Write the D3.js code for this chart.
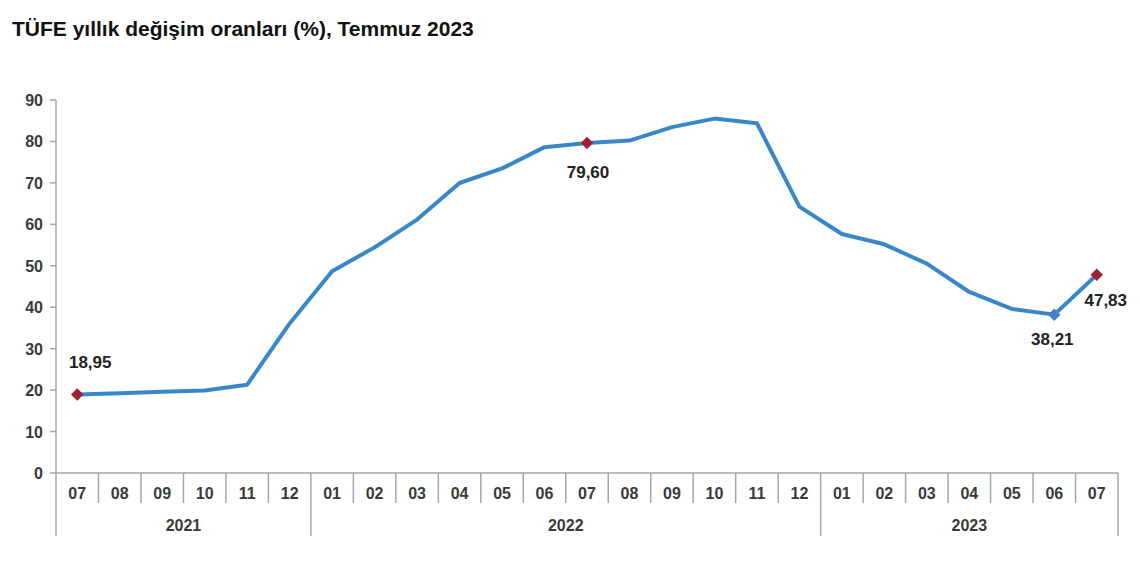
<!DOCTYPE html>
<html><head><meta charset="utf-8">
<script src="https://cdn.jsdelivr.net/npm/d3@7"></script>
<style>body{margin:0;background:#fff}svg{display:block}text{font-family:"Liberation Sans",Arial,sans-serif}</style>
</head><body>
<svg id="c" width="1140" height="570"></svg>
<script>
const title = "TÜFE yıllık değişim oranları (%), Temmuz 2023";
const months = ["07","08","09","10","11","12","01","02","03","04","05","06","07","08","09","10","11","12","01","02","03","04","05","06","07"];
const years = ["2021","2022","2023"];
const yearSpans = [[0,5],[6,17],[18,24]];
const values = [18.95,19.25,19.58,19.89,21.31,36.08,48.69,54.44,61.14,69.97,73.50,78.62,79.60,80.21,83.45,85.51,84.39,64.27,57.68,55.18,50.51,43.68,39.59,38.21,47.83];
const yTicks = [0,10,20,30,40,50,60,70,80,90];
const labelled = [{i:0,text:"18,95",dx:13,dy:-26,c:"#9b2335"},{i:12,text:"79,60",dx:1,dy:35,c:"#9b2335"},{i:23,text:"38,21",dx:-2,dy:30,c:"#4a7fc5"},{i:24,text:"47,83",dx:9,dy:31,c:"#9b2335"}];

const svg = d3.select("#c");
const x = d3.scaleBand().domain(d3.range(months.length)).range([56,1118]).paddingInner(0).paddingOuter(0);
const y = d3.scaleLinear().domain([0,90]).range([473,100]);
const axisCol = "#a6a6a6";
const tickTextCol = "#3a3a3a";

svg.append("text").attr("x",12).attr("y",36).attr("font-size",21).attr("font-weight","bold").attr("fill","#111").text(title);

// y axis
svg.append("line").attr("x1",56).attr("x2",56).attr("y1",y(90)).attr("y2",y(0)).attr("stroke",axisCol).attr("stroke-width",1.5);
yTicks.forEach(t=>{
  svg.append("line").attr("x1",50).attr("x2",56).attr("y1",y(t)).attr("y2",y(t)).attr("stroke",axisCol).attr("stroke-width",1.5);
  svg.append("text").attr("x",43).attr("y",y(t)+6).attr("text-anchor","end").attr("font-size",16).attr("font-weight","bold").attr("fill",tickTextCol).text(t);
});
// x axis
svg.append("line").attr("x1",56).attr("x2",1118).attr("y1",y(0)).attr("y2",y(0)).attr("stroke",axisCol).attr("stroke-width",1.5);
const yearStarts = new Set(yearSpans.map(s=>s[0]));
d3.range(months.length+1).forEach(i=>{
  const xp = i<months.length ? x(i) : x(months.length-1)+x.bandwidth();
  const long = yearStarts.has(i) || i===months.length;
  svg.append("line").attr("x1",xp).attr("x2",xp).attr("y1",y(0)).attr("y2",long?536:503).attr("stroke",axisCol).attr("stroke-width",1.5);
});
months.forEach((m,i)=>{
  svg.append("text").attr("x",x(i)+x.bandwidth()/2).attr("y",499).attr("text-anchor","middle").attr("font-size",16).attr("font-weight","bold").attr("fill",tickTextCol).text(m);
});
years.forEach((yr,k)=>{
  const [a,b]=yearSpans[k];
  const cx=(x(a)+x(b)+x.bandwidth())/2;
  svg.append("text").attr("x",cx).attr("y",531).attr("text-anchor","middle").attr("font-size",16).attr("font-weight","bold").attr("fill",tickTextCol).text(yr);
});

// line
const line = d3.line().x((d,i)=>x(i)+x.bandwidth()/2).y(d=>y(d));
svg.append("path").datum(values).attr("d",line).attr("fill","none").attr("stroke","#3a87c8").attr("stroke-width",4).attr("stroke-linejoin","round");

// markers and labels
labelled.forEach(l=>{
  const px=x(l.i)+x.bandwidth()/2, py=y(values[l.i]);
  svg.append("path").attr("d",d3.symbol(d3.symbolDiamond2,100)()).attr("transform",`translate(${px},${py})`).attr("fill",l.c);
  svg.append("text").attr("x",px+l.dx).attr("y",py+l.dy).attr("text-anchor","middle").attr("font-size",17).attr("font-weight","bold").attr("fill","#222").text(l.text);
});
</script>
</body></html>
